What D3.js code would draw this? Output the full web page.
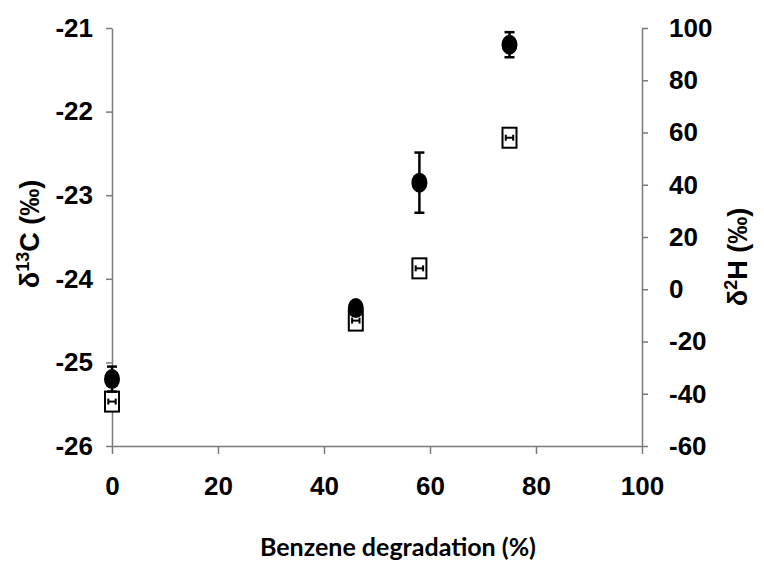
<!DOCTYPE html>
<html>
<head>
<meta charset="utf-8">
<script src="https://cdn.jsdelivr.net/npm/d3@7"></script>
<style>
  body { margin: 0; background: #fff; }
  text { font-family: "Liberation Sans", Arial, sans-serif; font-weight: bold; }
</style>
</head>
<body>
<div id="chart"></div>
<script>
"use strict";

// benzene degradation (%)
var degradation = [0, 46, 58, 75];
// delta 13C (permil) and its error
var d13C = [-25.2, -24.35, -22.85, -21.2];
var d13CErr = [0.15, 0.05, 0.36, 0.15];
// delta 2H (permil), x error of those points
var d2H = [-43, -12, 8, 58];
var d2HxErr = [0.7, 0.7, 0.7, 0.7];

var xTicks = [0, 20, 40, 60, 80, 100];
var cTicks = [-26, -25, -24, -23, -22, -21];
var hTicks = [-60, -40, -20, 0, 20, 40, 60, 80, 100];

var width = 764, height = 573;
var margin = {top: 28, right: 122, bottom: 127, left: 112};

var svg = d3.select("#chart").append("svg")
  .attr("width", width)
  .attr("height", height);

var x = d3.scaleLinear().domain([0, 100]).range([margin.left, width - margin.right]);
var yC = d3.scaleLinear().domain([-26, -21]).range([height - margin.bottom, margin.top]);
var yH = d3.scaleLinear().domain([-60, 100]).range([height - margin.bottom, margin.top]);

var axisColor = "#7a7a7a";

function styleAxis(g) {
  g.select(".domain").attr("stroke", axisColor).attr("stroke-width", 1.5);
  g.selectAll(".tick line").attr("stroke", axisColor).attr("stroke-width", 1.5);
  g.selectAll(".tick text")
    .attr("fill", "#000")
    .style("font-size", "26px")
    .style("font-family", "'Liberation Sans', Arial, sans-serif")
    .style("font-weight", "bold");
}

svg.append("g")
  .attr("transform", "translate(0," + (height - margin.bottom) + ")")
  .call(d3.axisBottom(x).tickValues(xTicks).tickSize(8).tickPadding(23).tickSizeOuter(0)
    .tickFormat(function(d) { return String(d); }))
  .call(styleAxis);

svg.append("g")
  .attr("transform", "translate(" + margin.left + ",0)")
  .call(d3.axisLeft(yC).tickValues(cTicks).tickSize(6).tickPadding(13).tickSizeOuter(0)
    .tickFormat(function(d) { return String(d); }))
  .call(styleAxis);

svg.append("g")
  .attr("transform", "translate(" + (width - margin.right) + ",0)")
  .call(d3.axisRight(yH).tickValues(hTicks).tickSize(6).tickPadding(21).tickSizeOuter(0)
    .tickFormat(function(d) { return String(d); }))
  .call(styleAxis);

// d2H points: open rectangles with small horizontal error bars
var sq = svg.selectAll("g.sq")
  .data(degradation)
  .enter()
  .append("g")
  .attr("class", "sq");

sq.append("rect")
  .attr("x", function(d) { return x(d) - 7; })
  .attr("y", function(d, i) { return yH(d2H[i]) - 10; })
  .attr("width", 14)
  .attr("height", 20)
  .attr("fill", "#fff")
  .attr("stroke", "#000")
  .attr("stroke-width", 2);

sq.append("line")
  .attr("x1", function(d, i) { return x(d - d2HxErr[i]); })
  .attr("x2", function(d, i) { return x(d + d2HxErr[i]); })
  .attr("y1", function(d, i) { return yH(d2H[i]); })
  .attr("y2", function(d, i) { return yH(d2H[i]); })
  .attr("stroke", "#000").attr("stroke-width", 2);

[-1, 1].forEach(function(s) {
  sq.append("line")
    .attr("x1", function(d, i) { return x(d + s * d2HxErr[i]); })
    .attr("x2", function(d, i) { return x(d + s * d2HxErr[i]); })
    .attr("y1", function(d, i) { return yH(d2H[i]) - 3; })
    .attr("y2", function(d, i) { return yH(d2H[i]) + 3; })
    .attr("stroke", "#000").attr("stroke-width", 2);
});

// d13C points: filled ellipses with vertical error bars
var ci = svg.selectAll("g.ci")
  .data(degradation)
  .enter()
  .append("g")
  .attr("class", "ci");

ci.append("line")
  .attr("x1", function(d) { return x(d); })
  .attr("x2", function(d) { return x(d); })
  .attr("y1", function(d, i) { return yC(d13C[i] - d13CErr[i]); })
  .attr("y2", function(d, i) { return yC(d13C[i] + d13CErr[i]); })
  .attr("stroke", "#000").attr("stroke-width", 2.5);

[-1, 1].forEach(function(s) {
  ci.append("line")
    .attr("x1", function(d) { return x(d) - 5; })
    .attr("x2", function(d) { return x(d) + 5; })
    .attr("y1", function(d, i) { return yC(d13C[i] + s * d13CErr[i]); })
    .attr("y2", function(d, i) { return yC(d13C[i] + s * d13CErr[i]); })
    .attr("stroke", "#000").attr("stroke-width", 2.5);
});

ci.append("ellipse")
  .attr("cx", function(d) { return x(d); })
  .attr("cy", function(d, i) { return yC(d13C[i]); })
  .attr("rx", 8)
  .attr("ry", 10)
  .attr("fill", "#000");

// axis titles
var lt = svg.append("text")
  .attr("transform", "translate(39,234) rotate(-90)")
  .attr("text-anchor", "middle")
  .style("font-size", "27px");
lt.append("tspan").text("δ");
lt.append("tspan").attr("dy", -10).style("font-size", "18px").text("13");
lt.append("tspan").attr("dy", 10).text("C (‰)");

var rt = svg.append("text")
  .attr("transform", "translate(747,257) rotate(-90)")
  .attr("text-anchor", "middle")
  .style("font-size", "27px");
rt.append("tspan").text("δ");
rt.append("tspan").attr("dy", -10).style("font-size", "18px").text("2");
rt.append("tspan").attr("dy", 10).text("H (‰)");

svg.append("text")
  .attr("x", (margin.left + width - margin.right) / 2 + 21)
  .attr("y", 556)
  .attr("text-anchor", "middle")
  .style("font-family", "Lato, 'Open Sans', sans-serif")
  .style("font-size", "25px")
  .text("Benzene degradation (%)");
</script>
</body>
</html>
